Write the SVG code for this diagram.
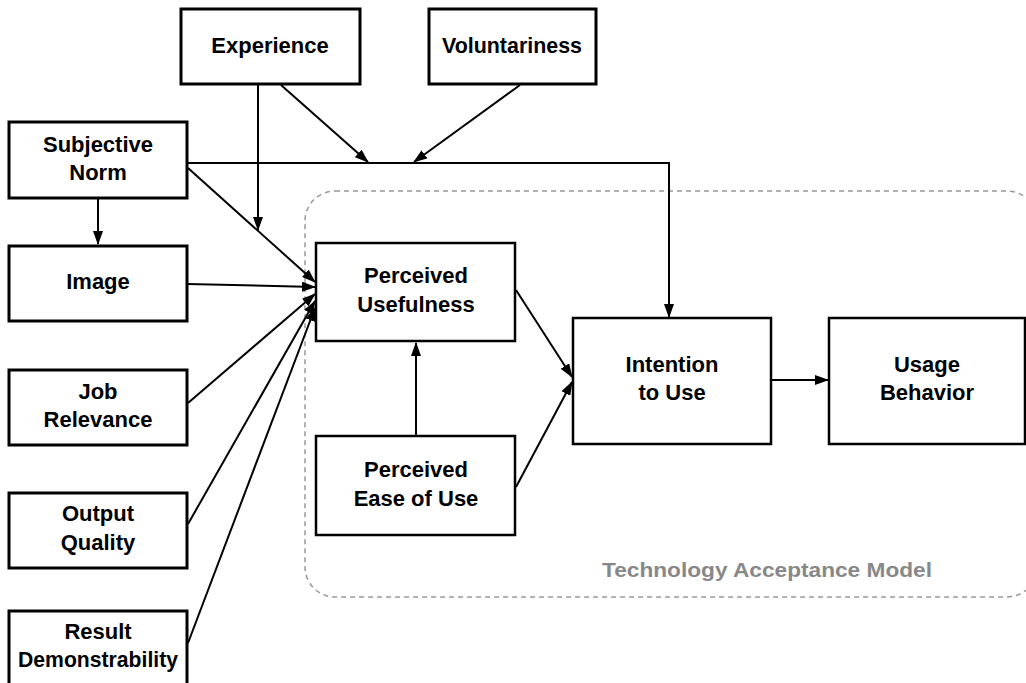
<svg xmlns="http://www.w3.org/2000/svg" width="1026" height="683" viewBox="0 0 1026 683">
<defs>
<marker id="arr" markerWidth="14" markerHeight="10" refX="13" refY="5" orient="auto" markerUnits="userSpaceOnUse">
<path d="M0,0 L14,5 L0,10 z" fill="#000"/>
</marker>
<style>
.box{fill:#fff;stroke:#000;stroke-width:3}
.box2{fill:#fff;stroke:#000;stroke-width:2.5}
.t{font-family:"Liberation Sans",Arial,sans-serif;font-weight:bold;font-size:22px;fill:#000;text-anchor:middle}
.c{fill:none;stroke:#000;stroke-width:2}
.ca{fill:none;stroke:#000;stroke-width:2;marker-end:url(#arr)}
</style>
</defs>
<rect width="1026" height="683" fill="#fff"/>
<g id="tam-frame">
<rect x="305" y="191" width="732" height="406" rx="30" ry="30" fill="none" stroke="#999" stroke-width="1.5" stroke-dasharray="5,4"/>
<text x="767" y="577" font-family="'Liberation Sans',Arial,sans-serif" font-weight="bold" font-size="21" fill="#888" text-anchor="middle" textLength="330" lengthAdjust="spacingAndGlyphs">Technology Acceptance Model</text>
</g>
<g id="connectors">
<polyline class="ca" points="187,163 669,163 669,317"/>
<line class="ca" x1="258" y1="85" x2="258" y2="230"/>
<line class="ca" x1="281" y1="85" x2="368" y2="162"/>
<line class="ca" x1="520" y1="85" x2="414" y2="162"/>
<line class="ca" x1="188" y1="168" x2="315" y2="282"/>
<line class="ca" x1="187" y1="284" x2="315" y2="287"/>
<line class="ca" x1="188" y1="403" x2="315" y2="294"/>
<line class="ca" x1="188" y1="524" x2="315" y2="301"/>
<line class="ca" x1="188" y1="643" x2="315" y2="308"/>
<line class="ca" x1="98" y1="199" x2="98" y2="244"/>
<line class="ca" x1="416" y1="436" x2="416" y2="343"/>
<line class="ca" x1="516" y1="290" x2="572" y2="377"/>
<line class="ca" x1="516" y1="487" x2="572" y2="382"/>
<line class="ca" x1="771" y1="380" x2="828" y2="380"/>
</g>
<g id="experience"><rect class="box" x="181" y="9" width="179" height="75"/><text class="t" x="270" y="53">Experience</text></g>
<g id="voluntariness"><rect class="box" x="429" y="9" width="167" height="75"/><text class="t" x="512" y="53" textLength="140" lengthAdjust="spacingAndGlyphs">Voluntariness</text></g>
<g id="subjective-norm"><rect class="box" x="9" y="122" width="178" height="76"/><text class="t" x="98" y="152">Subjective</text><text class="t" x="98" y="180">Norm</text></g>
<g id="image"><rect class="box" x="9" y="246" width="178" height="75"/><text class="t" x="98" y="289">Image</text></g>
<g id="job-relevance"><rect class="box" x="9" y="370" width="178" height="75"/><text class="t" x="98" y="399">Job</text><text class="t" x="98" y="427">Relevance</text></g>
<g id="output-quality"><rect class="box" x="9" y="493" width="178" height="75"/><text class="t" x="98" y="521">Output</text><text class="t" x="98" y="550">Quality</text></g>
<g id="result-demonstrability"><rect class="box" x="9" y="611" width="178" height="80"/><text class="t" x="98" y="639">Result</text><text class="t" x="98" y="667" textLength="160" lengthAdjust="spacingAndGlyphs">Demonstrability</text></g>
<g id="perceived-usefulness"><rect class="box2" x="316" y="243" width="199" height="98"/><text class="t" x="416" y="283">Perceived</text><text class="t" x="416" y="312">Usefulness</text></g>
<g id="perceived-ease-of-use"><rect class="box2" x="316" y="436" width="199" height="99"/><text class="t" x="416" y="477">Perceived</text><text class="t" x="416" y="506">Ease of Use</text></g>
<g id="intention-to-use"><rect class="box2" x="573" y="318" width="198" height="126"/><text class="t" x="672" y="372">Intention</text><text class="t" x="672" y="400">to Use</text></g>
<g id="usage-behavior"><rect class="box2" x="829" y="318" width="196" height="126"/><text class="t" x="927" y="372">Usage</text><text class="t" x="927" y="400">Behavior</text></g>
</svg>
